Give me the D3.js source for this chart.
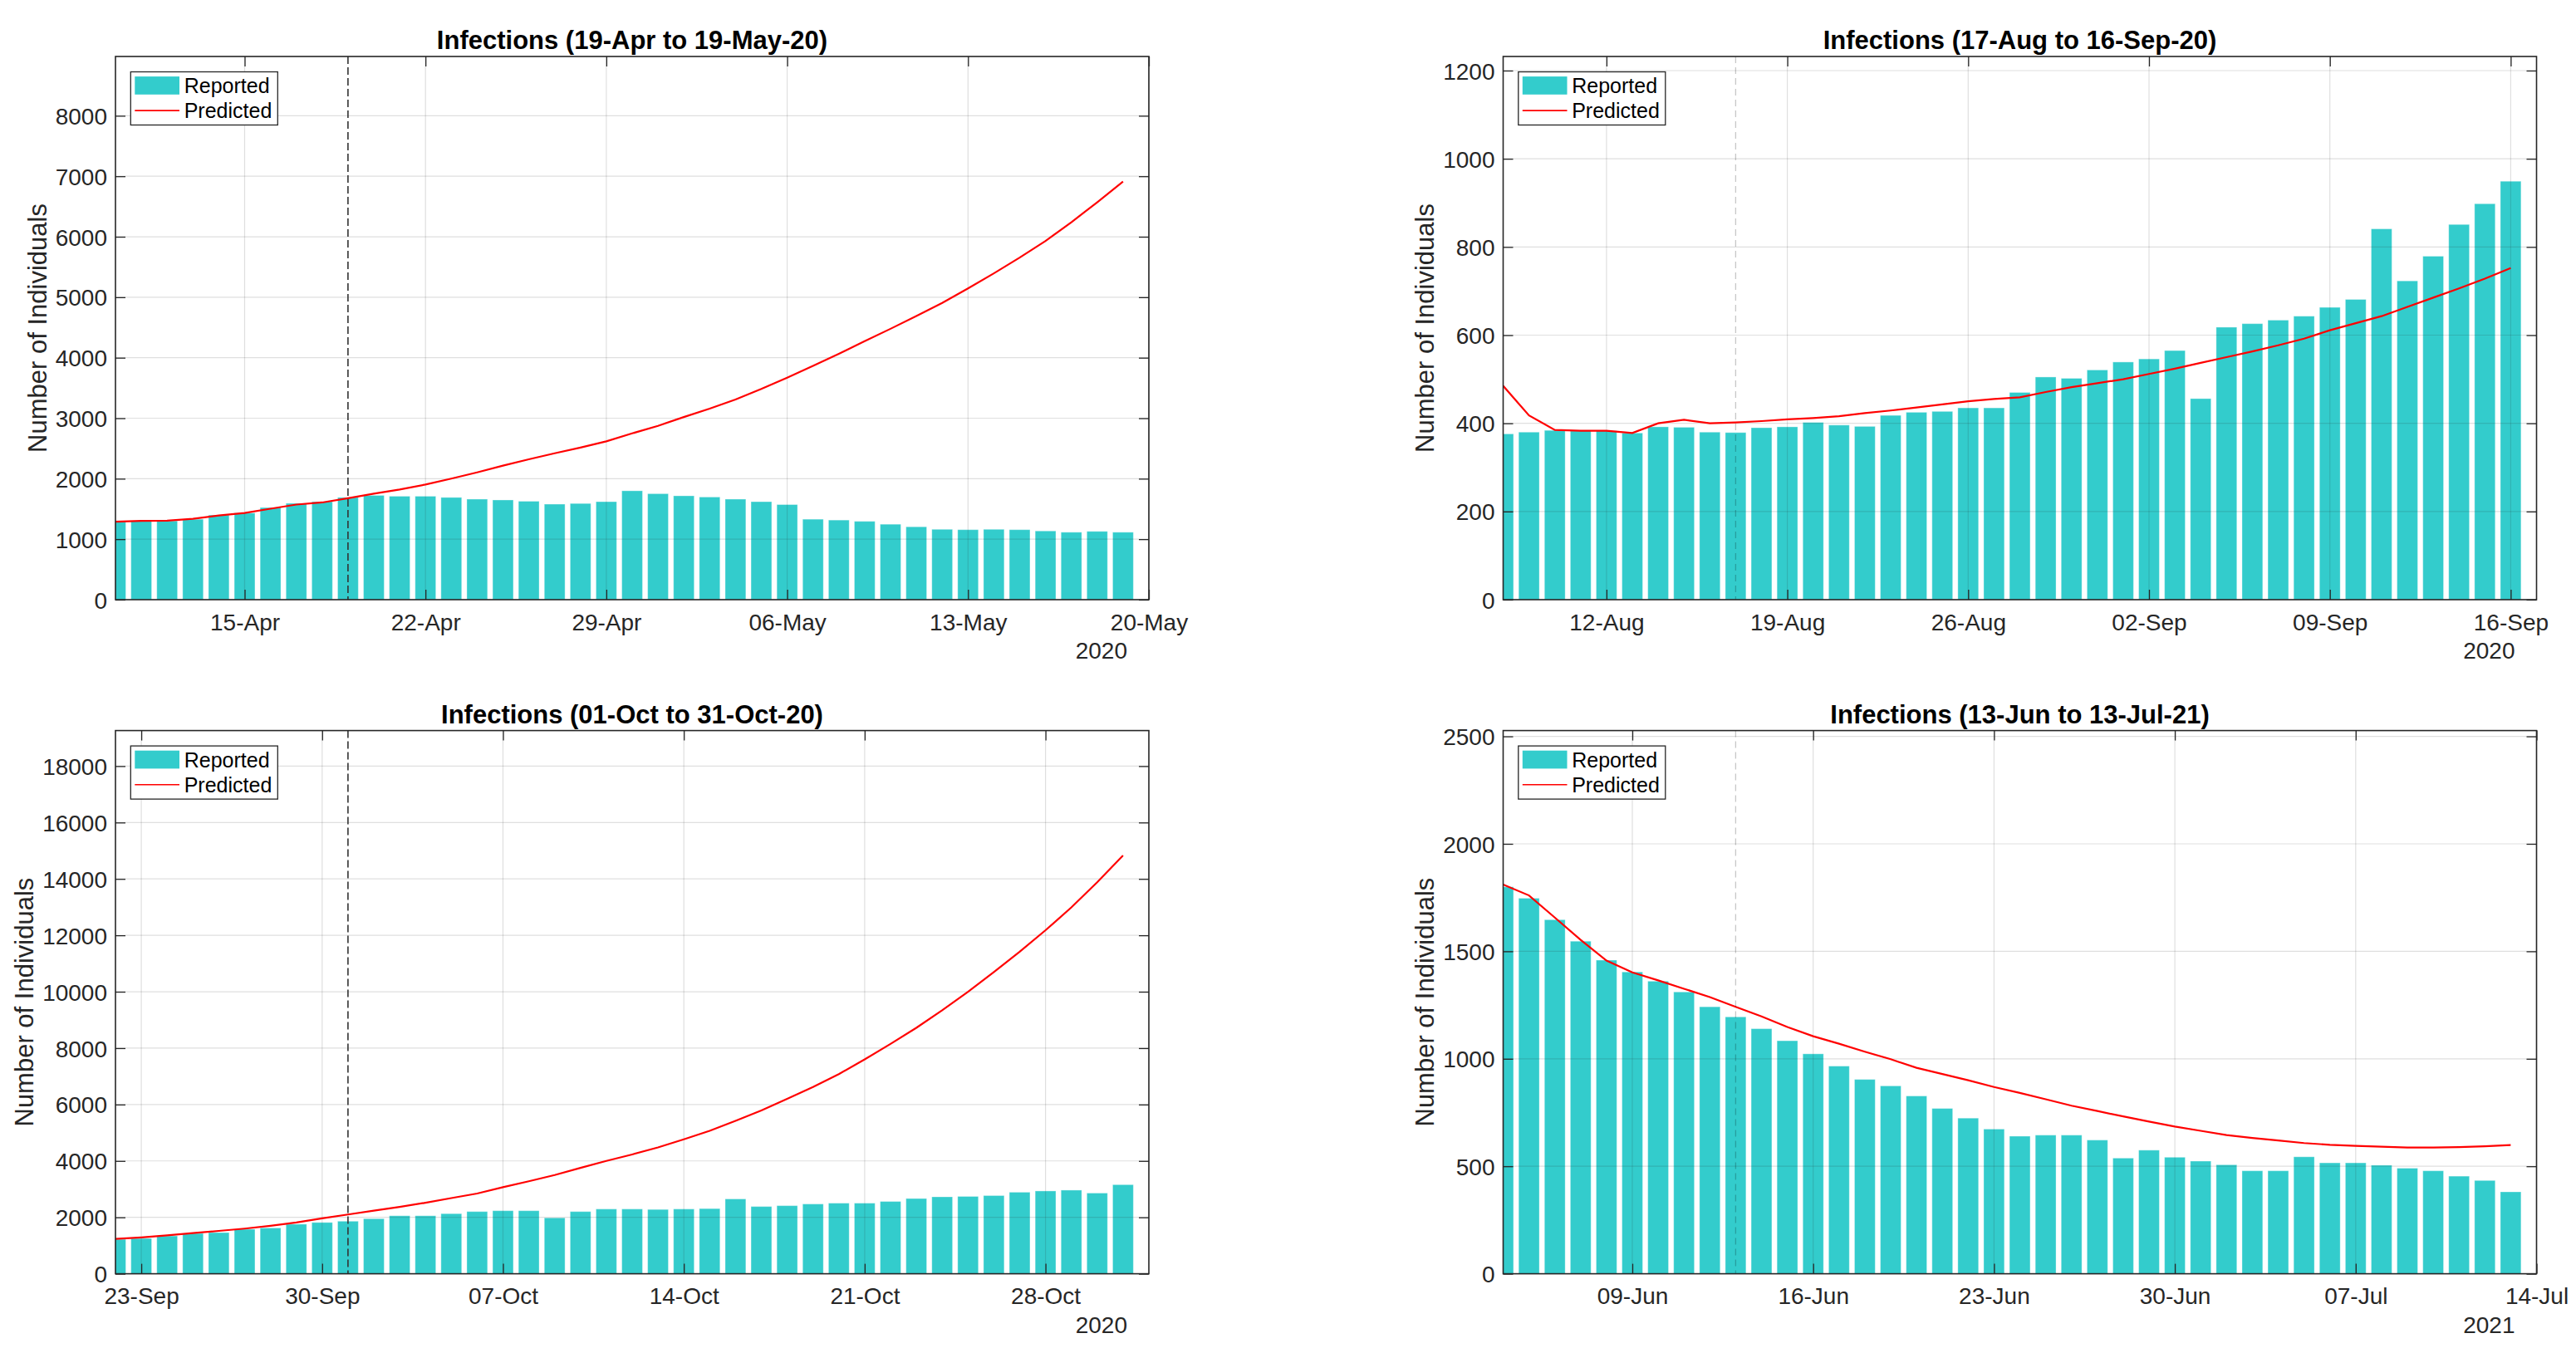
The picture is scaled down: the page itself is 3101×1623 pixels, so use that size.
<!DOCTYPE html>
<html><head>
<meta charset="UTF-8">
<title>Infections - reported vs predicted</title>
<style>
  body { margin: 0; padding: 0; background: #fff; }
  svg { display: block; font-family: "Liberation Sans", Arial, sans-serif; }
</style>
</head>
<body>
<svg id="chart" width="3101" height="1623"></svg>
<script src="https://d3js.org/d3.v7.min.js"></script>
<script>
  // ---- panel 1: 19-Apr to 19-May-20 ----
  const p1Title = "Infections (19-Apr to 19-May-20)";
  const p1Start = "2020-04-10";
  const p1Split = "2020-04-19";
  const p1Year = "2020";
  const p1Ticks = ["2020-04-15", "2020-04-22", "2020-04-29", "2020-05-06", "2020-05-13", "2020-05-20"];
  const p1YTicks = [0, 1000, 2000, 3000, 4000, 5000, 6000, 7000, 8000];
  const p1YMax = 8980;
  const p1Reported = [1288, 1302, 1302, 1330, 1399, 1433, 1523, 1593, 1620, 1690,
    1724, 1710, 1710, 1690, 1662, 1648, 1627, 1579, 1590, 1620,
    1800, 1752, 1717, 1697, 1662, 1620, 1572, 1330, 1316, 1295,
    1247, 1205, 1163, 1157, 1163, 1157, 1136, 1115, 1129, 1115];
  const p1Predicted = [1288, 1302, 1305, 1336, 1392, 1433, 1503, 1572, 1607, 1676,
    1752, 1821, 1904, 2001, 2105, 2216, 2320, 2420, 2515, 2618,
    2749, 2874, 3019, 3158, 3310, 3483, 3670, 3864, 4065, 4273,
    4478, 4690, 4905, 5145, 5395, 5655, 5930, 6240, 6570, 6911];

  // ---- panel 2: 17-Aug to 16-Sep-20 ----
  const p2Title = "Infections (17-Aug to 16-Sep-20)";
  const p2Start = "2020-08-08";
  const p2Split = "2020-08-17";
  const p2Year = "2020";
  const p2Ticks = ["2020-08-12", "2020-08-19", "2020-08-26", "2020-09-02", "2020-09-09", "2020-09-16"];
  const p2YTicks = [0, 200, 400, 600, 800, 1000, 1200];
  const p2YMax = 1232;
  const p2Reported = [376, 380, 384, 383, 383, 378, 392, 391, 380, 379,
    390, 392, 402, 396, 393, 418, 425, 427, 435, 435,
    470, 505, 502, 521, 539, 546, 565, 456, 618, 626,
    634, 643, 663, 681, 841, 723, 779, 851, 898, 949];
  const p2Predicted = [485, 418, 385, 383, 383, 378, 400, 408, 400, 402,
    405, 409, 412, 416, 423, 429, 436, 443, 450, 455,
    459, 471, 482, 491, 500, 512, 524, 537, 550, 563,
    577, 592, 611, 627, 643, 664, 685, 706, 728, 752];

  // ---- panel 3: 01-Oct to 31-Oct-20 ----
  const p3Title = "Infections (01-Oct to 31-Oct-20)";
  const p3Start = "2020-09-22";
  const p3Split = "2020-10-01";
  const p3Year = "2020";
  const p3Ticks = ["2020-09-23", "2020-09-30", "2020-10-07", "2020-10-14", "2020-10-21", "2020-10-28"];
  const p3YTicks = [0, 2000, 4000, 6000, 8000, 10000, 12000, 14000, 16000, 18000];
  const p3YMax = 19260;
  const p3Reported = [1222, 1252, 1341, 1430, 1460, 1579, 1624, 1758, 1818, 1863,
    1952, 2056, 2056, 2131, 2205, 2235, 2235, 1982, 2205, 2295,
    2295, 2280, 2295, 2310, 2652, 2384, 2414, 2473, 2503, 2503,
    2563, 2667, 2727, 2742, 2772, 2891, 2935, 2965, 2861, 3159];
  const p3Predicted = [1237, 1290, 1360, 1440, 1520, 1600, 1700, 1818, 1967, 2101,
    2235, 2369, 2518, 2682, 2846, 3069, 3278, 3500, 3755, 4000,
    4230, 4480, 4768, 5070, 5420, 5790, 6200, 6620, 7080, 7600,
    8150, 8720, 9340, 10000, 10700, 11420, 12180, 12990, 13880, 14830];

  // ---- panel 4: 13-Jun to 13-Jul-21 ----
  const p4Title = "Infections (13-Jun to 13-Jul-21)";
  const p4Start = "2021-06-04";
  const p4Split = "2021-06-13";
  const p4Year = "2021";
  const p4Ticks = ["2021-06-09", "2021-06-16", "2021-06-23", "2021-06-30", "2021-07-07", "2021-07-14"];
  const p4YTicks = [0, 500, 1000, 1500, 2000, 2500];
  const p4YMax = 2527;
  const p4Reported = [1800, 1747, 1647, 1547, 1459, 1404, 1361, 1311, 1242, 1195,
    1140, 1084, 1023, 966, 904, 874, 827, 769, 724, 673,
    640, 645, 645, 622, 538, 575, 542, 524, 507, 479,
    479, 544, 516, 516, 505, 491, 479, 454, 434, 381];
  const p4Predicted = [1811, 1760, 1657, 1553, 1457, 1402, 1365, 1326, 1287, 1242,
    1197, 1148, 1105, 1070, 1033, 998, 958, 929, 900, 869,
    841, 812, 782, 757, 732, 708, 685, 665, 645, 632,
    620, 608, 600, 595, 591, 587, 587, 589, 593, 599];

  const legendLabels = ["Reported", "Predicted"];

  const svg = d3.select("#chart");
  const parse = d3.utcParse("%Y-%m-%d");
  const fmt = d3.utcFormat("%d-%b");
  const yFmt = d3.format("d");
  const plotW = 1244, plotH = 654;
  const barColor = "#33CCCC";
  const ink = "#262626";

  const panels = [
    { title: p1Title, start: p1Start, split: p1Split, year: p1Year, ticks: p1Ticks, yTicks: p1YTicks, yMax: p1YMax,
      reported: p1Reported, predicted: p1Predicted, left: 139, top: 68, splitDark: true },
    { title: p2Title, start: p2Start, split: p2Split, year: p2Year, ticks: p2Ticks, yTicks: p2YTicks, yMax: p2YMax,
      reported: p2Reported, predicted: p2Predicted, left: 1809.5, top: 68, splitDark: false },
    { title: p3Title, start: p3Start, split: p3Split, year: p3Year, ticks: p3Ticks, yTicks: p3YTicks, yMax: p3YMax,
      reported: p3Reported, predicted: p3Predicted, left: 139, top: 879.6, splitDark: true },
    { title: p4Title, start: p4Start, split: p4Split, year: p4Year, ticks: p4Ticks, yTicks: p4YTicks, yMax: p4YMax,
      reported: p4Reported, predicted: p4Predicted, left: 1809.5, top: 879.6, splitDark: false }
  ];

  function styleAxis(sel, size) {
    sel.attr("font-family", null).attr("font-size", null);
    sel.select(".domain").remove();
    sel.selectAll("line").attr("stroke", ink).attr("stroke-width", 1.3);
    sel.selectAll("text").attr("fill", ink).style("font-size", size + "px");
  }

  function drawPanel(p, idx) {
    const left = p.left, top = p.top, right = left + plotW, bottom = top + plotH;
    const t0 = parse(p.start);
    const days = p.reported.length;
    const dates = d3.range(days).map(i => d3.utcDay.offset(t0, i));
    const tickDates = p.ticks.map(parse);

    const x = d3.scaleUtc().domain([t0, d3.utcDay.offset(t0, days)]).range([left, right]);
    const y = d3.scaleLinear().domain([0, p.yMax]).range([bottom, top]);
    const dayW = x(dates[1]) - x(dates[0]);
    const bw = dayW * 0.8;

    const g = svg.append("g");
    const clipId = "clip" + idx;
    svg.append("clipPath").attr("id", clipId)
      .append("rect").attr("x", left).attr("y", top).attr("width", plotW).attr("height", plotH);

    // bars
    g.append("g").attr("clip-path", `url(#${clipId})`)
      .selectAll("rect").data(p.reported).join("rect")
      .attr("x", (d, i) => x(dates[i]) - bw / 2)
      .attr("y", d => y(d))
      .attr("width", bw)
      .attr("height", d => bottom - y(d))
      .attr("fill", barColor)
      .attr("stroke", "#ffffff").attr("stroke-opacity", 0.35).attr("stroke-width", 1);

    // grid (drawn over the bars, semi-transparent)
    const grid = g.append("g").attr("stroke", ink).attr("stroke-opacity", 0.15).attr("stroke-width", 1.2);
    grid.selectAll(".gx").data(tickDates).join("line")
      .attr("x1", d => x(d)).attr("x2", d => x(d)).attr("y1", top).attr("y2", bottom);
    grid.selectAll(".gy").data(p.yTicks).join("line")
      .attr("x1", left).attr("x2", right).attr("y1", d => y(d)).attr("y2", d => y(d));

    // predicted line
    const line = d3.line().x((d, i) => x(dates[i])).y(d => y(d));
    g.append("path").attr("clip-path", `url(#${clipId})`)
      .datum(p.predicted)
      .attr("d", line)
      .attr("fill", "none").attr("stroke", "#FF0000").attr("stroke-width", 2.2);

    // forecast split marker
    const sx = x(parse(p.split));
    g.append("line")
      .attr("x1", sx).attr("x2", sx).attr("y1", top).attr("y2", bottom)
      .attr("stroke", p.splitDark ? "#333333" : "#000000")
      .attr("stroke-opacity", p.splitDark ? 1 : 0.22)
      .attr("stroke-width", p.splitDark ? 1.6 : 1.3)
      .attr("stroke-dasharray", p.splitDark ? "9,4" : "8,5");

    // axes
    const gxB = g.append("g").attr("transform", `translate(0,${bottom})`)
      .call(d3.axisBottom(x).tickValues(tickDates).tickFormat(fmt).tickSizeInner(-12).tickSizeOuter(0).tickPadding(17));
    styleAxis(gxB, 28);
    const gxT = g.append("g").attr("transform", `translate(0,${top})`)
      .call(d3.axisTop(x).tickValues(tickDates).tickFormat(() => "").tickSizeInner(-12).tickSizeOuter(0));
    styleAxis(gxT, 28);
    const gyL = g.append("g").attr("transform", `translate(${left},0)`)
      .call(d3.axisLeft(y).tickValues(p.yTicks).tickFormat(yFmt).tickSizeInner(-12).tickSizeOuter(0).tickPadding(10));
    styleAxis(gyL, 28);
    gyL.selectAll("text").attr("dy", "0.36em");
    const gyR = g.append("g").attr("transform", `translate(${right},0)`)
      .call(d3.axisRight(y).tickValues(p.yTicks).tickFormat(() => "").tickSizeInner(-12).tickSizeOuter(0));
    styleAxis(gyR, 28);

    // frame
    g.append("rect").attr("x", left).attr("y", top).attr("width", plotW).attr("height", plotH)
      .attr("fill", "none").attr("stroke", ink).attr("stroke-width", 1.6);

    // y label, placed just left of the widest tick label
    let minX = Infinity;
    gyL.selectAll("text").each(function () { minX = Math.min(minX, this.getBBox().x + left); });
    g.append("text")
      .attr("transform", `translate(${minX - 11},${(top + bottom) / 2}) rotate(-90)`)
      .attr("text-anchor", "middle")
      .attr("fill", ink).style("font-size", "31px")
      .text("Number of Individuals");

    // title
    g.append("text")
      .attr("x", (left + right) / 2).attr("y", top - 9)
      .attr("text-anchor", "middle")
      .attr("fill", "#000").style("font-size", "31px").style("font-weight", "bold")
      .text(p.title);

    // year under the axis
    g.append("text")
      .attr("x", right - 26).attr("y", bottom + 71)
      .attr("text-anchor", "end")
      .attr("fill", ink).style("font-size", "28px")
      .text(p.year);

    // legend
    const lg = g.append("g").attr("transform", `translate(${left + 18.3},${top + 18.5})`);
    lg.append("rect").attr("width", 177).attr("height", 64)
      .attr("fill", "#fff").attr("stroke", ink).attr("stroke-width", 1.3);
    lg.append("rect").attr("x", 5).attr("y", 5.6).attr("width", 53.7).attr("height", 21.7).attr("fill", barColor);
    lg.append("line").attr("x1", 5).attr("x2", 58.7).attr("y1", 46.6).attr("y2", 46.6)
      .attr("stroke", "#FF0000").attr("stroke-width", 1.6);
    lg.selectAll(".lt").data(legendLabels).join("text")
      .attr("x", 64.4).attr("y", (d, i) => 25.5 + i * 30)
      .attr("fill", "#000").style("font-size", "25px")
      .text(d => d);
  }

  panels.forEach(drawPanel);
</script>
</body></html>
